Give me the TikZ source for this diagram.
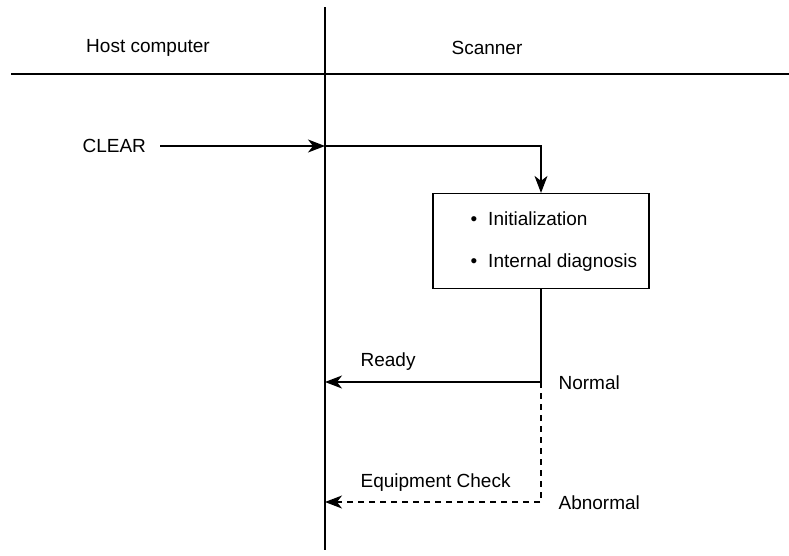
\documentclass[tikz,border=0pt]{standalone}
\usepackage{fontspec}
\setmainfont{Liberation Sans}
\usetikzlibrary{arrows.meta}
\begin{document}
\begin{tikzpicture}[x=1pt,y=-1pt,
  line width=1.2pt,
  lbl/.style={font=\fontsize{19}{22}\selectfont, inner sep=0pt},
  arr/.style={-{Stealth[length=17pt,width=13pt,inset=5pt]}},
  procbox/.style={draw, line width=1.2pt, minimum width=216pt, minimum height=95pt, inner sep=0pt}]
\useasboundingbox (0,0) rectangle (789,555);
% lanes
\coordinate (vtop) at (325,7);
\coordinate (vbot) at (325,550);
\coordinate (hl) at (11,74);
\coordinate (hr) at (789,74);
\draw (vtop) -- (vbot);
\draw (hl) -- (hr);
\node[lbl] (host) at (148,48) {Host computer};
\node[lbl] (scan) at (487,48) {Scanner};
% CLEAR
\node[lbl, anchor=west] (clear) at (82,146) {CLEAR};
\coordinate (clearend) at (325,146);
\coordinate (cornerA) at (541,146);
\draw[arr] (160,146) -- (clearend);
\node[procbox] (box) at (541,241) {};
\node[lbl, anchor=west] (b1) at (470,219) {\textbullet\hspace{11pt}Initialization};
\node[lbl, anchor=west] (b2) at (470,263) {\textbullet\hspace{11pt}Internal diagnosis};
\draw[arr] (clearend) -- (cornerA) -- (box.north);
% Ready
\coordinate (ready) at (box.south |- 0,382);
\coordinate (readyend) at (325,382);
\draw[arr] (box.south) -- (ready) -- (readyend);
\node[lbl, anchor=west] (readylbl) at (360,362) {Ready};
\node[lbl, anchor=west] (normal) at (558,383) {Normal};
% Abnormal
\coordinate (abn) at (box.south |- 0,502);
\coordinate (abnend) at (325,502);
\draw[arr, dashed, dash pattern=on 6pt off 5pt] (ready) -- (abn) -- (abnend);
\node[lbl, anchor=west] (eqlbl) at (360,483) {Equipment Check};
\node[lbl, anchor=west] (abnormal) at (558,503) {Abnormal};
\end{tikzpicture}
\end{document}
